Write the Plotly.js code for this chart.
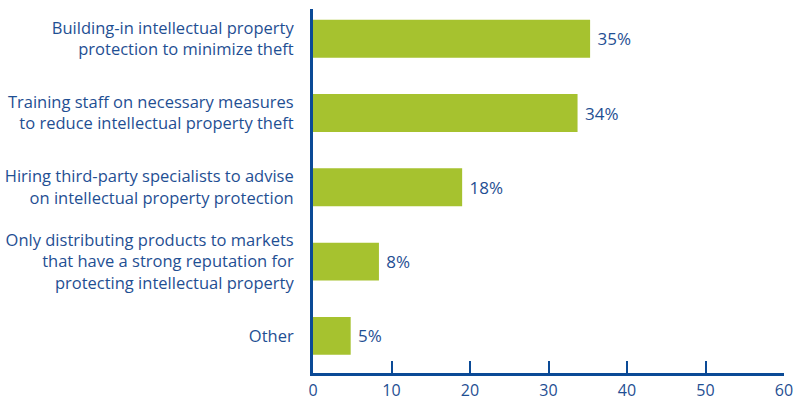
<!DOCTYPE html>
<html>
<head>
<meta charset="utf-8">
<script src="https://cdn.plot.ly/plotly-3.0.1.min.js"></script>
<style>html,body{margin:0;padding:0;background:#fff;}#chart{width:803px;height:401px;}</style>
</head>
<body>
<div id="chart"></div>
<script>
const categories = [
  "Building-in intellectual property<br>protection to minimize theft",
  "Training staff on necessary measures<br>to reduce intellectual property theft",
  "Hiring third-party specialists to advise<br>on intellectual property protection",
  "Only distributing products to markets<br>that have a strong reputation for<br>protecting intellectual property",
  "Other"
];
const values = [35.3, 33.7, 19.0, 8.4, 4.8];
const valueLabels = ["35%", "34%", "18%", "8%", "5%"];
const xTicks = [0, 10, 20, 30, 40, 50, 60];

const blue = "#1f4f93";
const axisBlue = "#0b4a96";
const green = "#a6c22f";
const fontFam = "Open Sans, sans-serif";

Plotly.newPlot("chart", [{
  type: "bar",
  orientation: "h",
  y: categories,
  x: values,
  text: valueLabels,
  texttemplate: " %{text}",
  textposition: "outside",
  cliponaxis: false,
  textfont: {family: fontFam, size: 17, color: blue},
  marker: {color: green},
  hoverinfo: "none"
}], {
  width: 803, height: 401,
  margin: {l: 313, r: 19, t: 9, b: 27.5},
  paper_bgcolor: "#fff", plot_bgcolor: "#fff",
  bargap: 0.49,
  showlegend: false,
  font: {family: fontFam, color: blue, size: 16.5},
  xaxis: {
    range: [0, 60],
    tickvals: xTicks,
    ticks: "inside", ticklen: 12, tickwidth: 2, tickcolor: axisBlue,
    showline: true, linecolor: axisBlue, linewidth: 3,
    showgrid: false, zeroline: false,
    ticklabelstandoff: 1,
    tickfont: {family: fontFam, size: 16, color: blue},
    fixedrange: true
  },
  yaxis: {
    range: [4.5, -0.4],
    showline: true, linecolor: axisBlue, linewidth: 3,
    showgrid: false, zeroline: false,
    ticks: "", ticklabelstandoff: 13,
    tickfont: {family: fontFam, size: 16.5, color: blue},
    fixedrange: true
  }
}, {displayModeBar: false, staticPlot: true});
</script>
</body>
</html>
